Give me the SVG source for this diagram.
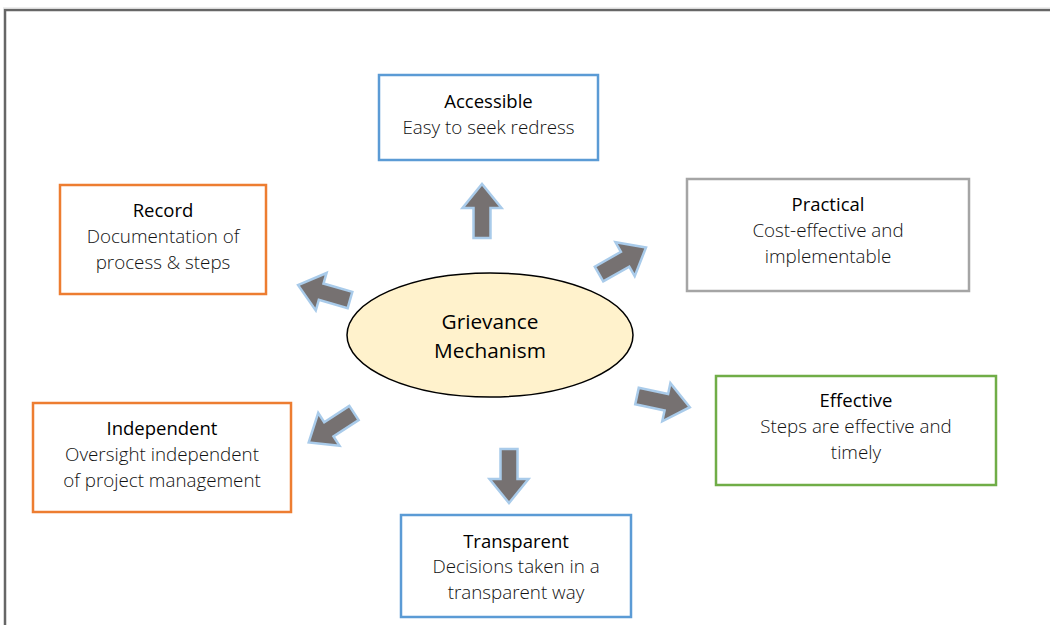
<svg xmlns="http://www.w3.org/2000/svg" width="1050" height="625" viewBox="0 0 1050 625">
<style>
.box{fill:#fff;stroke-width:2.5}
.t{font-family:"Open Sans","Noto Sans",sans-serif;font-size:18.5px;font-weight:500;fill:#000;text-anchor:middle}
.b{font-family:"Open Sans","Noto Sans",sans-serif;font-size:18.8px;font-weight:300;fill:#111;text-anchor:middle}
.arr{fill:#767171;stroke:#a9cbea;stroke-width:2.5;stroke-linejoin:miter}
</style>
<defs>
<path id="a" d="M0,-8.5 L-30,-8.5 L-30,-19.5 L-54,0 L-30,19.5 L-30,8.5 L0,8.5 Z"/>
</defs>
<rect width="1050" height="625" fill="#fff"/>
<path d="M5,625 V10 H1050" fill="none" stroke="#666" stroke-width="2.5"/>
<path d="M3,8 H1050" fill="none" stroke="#ddd" stroke-width="1"/>

<g id="connectors">
<use href="#a" class="arr" transform="translate(482,238) rotate(90)"/>
<use href="#a" class="arr" transform="translate(509,449) rotate(-90)"/>
<use href="#a" class="arr" transform="translate(599,274) rotate(150.5)"/>
<use href="#a" class="arr" transform="translate(350,300) rotate(16)"/>
<use href="#a" class="arr" transform="translate(637,396) rotate(192)"/>
<use href="#a" class="arr" transform="translate(354,413) rotate(-33)"/>
</g>

<g id="center">
<ellipse cx="490" cy="335" rx="143" ry="62" fill="#fff2cc" stroke="#000" stroke-width="1.5"/>
<text class="t" x="490" y="329" style="font-size:20.8px;font-weight:400">Grievance</text>
<text class="t" x="490" y="358" style="font-size:20.8px;font-weight:400">Mechanism</text>
</g>

<g id="accessible">
<rect class="box" x="379" y="75" width="219" height="85" stroke="#5b9bd5"/>
<text class="t" x="488.5" y="108">Accessible</text>
<text class="b" x="488.5" y="134">Easy to seek redress</text>
</g>

<g id="practical">
<rect class="box" x="687" y="179" width="282" height="112" stroke="#a5a5a5"/>
<text class="t" x="828" y="211">Practical</text>
<text class="b" x="828" y="237">Cost-effective and</text>
<text class="b" x="828" y="263">implementable</text>
</g>

<g id="record">
<rect class="box" x="60" y="185" width="206" height="109" stroke="#ed7d31"/>
<text class="t" x="163" y="217">Record</text>
<text class="b" x="163" y="243">Documentation of</text>
<text class="b" x="163" y="269">process &amp; steps</text>
</g>

<g id="effective">
<rect class="box" x="716" y="376" width="280" height="109" stroke="#70ad47"/>
<text class="t" x="856" y="407">Effective</text>
<text class="b" x="856" y="433">Steps are effective and</text>
<text class="b" x="856" y="459">timely</text>
</g>

<g id="independent">
<rect class="box" x="33" y="403" width="258" height="109" stroke="#ed7d31"/>
<text class="t" x="162" y="435">Independent</text>
<text class="b" x="162" y="461">Oversight independent</text>
<text class="b" x="162" y="487">of project management</text>
</g>

<g id="transparent">
<rect class="box" x="401" y="515" width="230" height="102" stroke="#5b9bd5"/>
<text class="t" x="516" y="548">Transparent</text>
<text class="b" x="516" y="573">Decisions taken in a</text>
<text class="b" x="516" y="599">transparent way</text>
</g>
</svg>
